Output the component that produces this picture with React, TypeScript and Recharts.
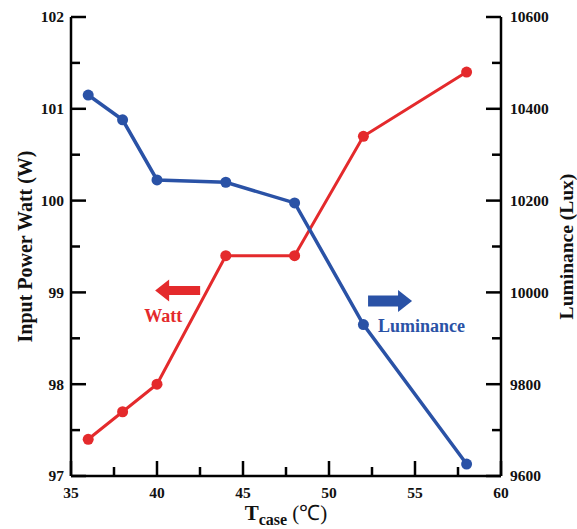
import React from 'react';
import { ComposedChart, Line, XAxis, YAxis, ReferenceDot } from 'recharts';

const temps = [36, 38, 40, 44, 48, 52, 58];
const wattValues = [97.4, 97.7, 98.0, 99.4, 99.4, 100.7, 101.4];
const luxValues = [10430, 10376, 10245, 10240, 10195, 9930, 9626];
const xTicks = [35, 37.5, 40, 42.5, 45, 47.5, 50, 52.5, 55, 57.5, 60];
const wattTicks = [97, 97.5, 98, 98.5, 99, 99.5, 100, 100.5, 101, 101.5, 102];
const luxTicks = [9600, 9700, 9800, 9900, 10000, 10100, 10200, 10300, 10400, 10500, 10600];

const data = temps.map((t, i) => ({ t, watt: wattValues[i], lux: luxValues[i] }));

const RED = '#e42a2c';
const BLUE = '#2a52a6';
const FONT = '"Liberation Serif", "Times New Roman", serif';
const MAJOR = 15;
const MINOR = 9;

const XTick = (props: any) => {
  const { x, y, payload } = props;
  const v = payload.value;
  const major = v % 5 === 0;
  return (
    <g>
      <line x1={x} y1={y} x2={x} y2={y - (major ? MAJOR : MINOR)} stroke="#000" strokeWidth={2.5} />
      {major && (
        <text x={x} y={y + 22} textAnchor="middle" fontFamily={FONT} fontWeight="bold" fontSize={15.5} fill="#111">
          {v}
        </text>
      )}
    </g>
  );
};

const LeftTick = (props: any) => {
  const { x, y, payload } = props;
  const v = payload.value;
  const major = Number.isInteger(v);
  return (
    <g>
      <line x1={x} y1={y} x2={x + (major ? MAJOR : MINOR)} y2={y} stroke="#000" strokeWidth={2.5} />
      {major && (
        <text x={x - 7} y={y} dy="0.35em" textAnchor="end" fontFamily={FONT} fontWeight="bold" fontSize={15.5} fill="#111">
          {v}
        </text>
      )}
    </g>
  );
};

const RightTick = (props: any) => {
  const { x, y, payload } = props;
  const v = payload.value;
  const major = v % 200 === 0;
  return (
    <g>
      <line x1={x} y1={y} x2={x - (major ? MAJOR : MINOR)} y2={y} stroke="#000" strokeWidth={2.5} />
      {major && (
        <text x={x + 9} y={y} dy="0.35em" textAnchor="start" fontFamily={FONT} fontWeight="bold" fontSize={15.5} fill="#111">
          {v}
        </text>
      )}
    </g>
  );
};

const LeftLabel = (props: any) => {
  const vb = props.viewBox;
  const cx = vb.x + 24.5;
  const cy = vb.y + vb.height / 2;
  return (
    <text x={cx} y={cy} transform={`rotate(-90 ${cx} ${cy})`} textAnchor="middle" dominantBaseline="central"
      fontFamily={FONT} fontWeight="bold" fontSize={20} fill="#111">
      Input Power Watt (W)
    </text>
  );
};

const RightLabel = (props: any) => {
  const vb = props.viewBox;
  const cx = vb.x + 65;
  const cy = vb.y + vb.height / 2;
  return (
    <text x={cx} y={cy} transform={`rotate(-90 ${cx} ${cy})`} textAnchor="middle" dominantBaseline="central"
      fontFamily={FONT} fontWeight="bold" fontSize={19.5} fill="#111">
      Luminance (Lux)
    </text>
  );
};

const BottomLabel = (props: any) => {
  const vb = props.viewBox;
  const cx = vb.x + vb.width / 2;
  const y = vb.y + 44;
  return (
    <text x={cx} y={y} textAnchor="middle" fontFamily={FONT} fontWeight="bold" fontSize={21} fill="#111">
      <tspan>T</tspan>
      <tspan fontSize={16} dy={5}>case</tspan>
      <tspan fontWeight="normal" dy={-5}> (℃)</tspan>
    </text>
  );
};

const RedArrow = (props: any) => {
  const { cx, cy } = props;
  const l = cx - 22.5;
  const r = cx + 22.5;
  const pts = [
    [l, cy], [l + 14, cy - 11], [l + 14, cy - 4.5], [r, cy - 4.5], [r, cy + 4.5], [l + 14, cy + 4.5], [l + 14, cy + 11],
  ].map((p) => p.join(',')).join(' ');
  return (
    <g>
      <polygon points={pts} fill={RED} />
      <text x={cx - 14.5} y={cy + 31} textAnchor="middle" fontFamily={FONT} fontWeight="bold" fontSize={18} fill={RED}>
        Watt
      </text>
    </g>
  );
};

const BlueArrow = (props: any) => {
  const { cx, cy } = props;
  const l = cx - 22;
  const r = cx + 22;
  const pts = [
    [r, cy], [r - 14, cy - 11], [r - 14, cy - 5.5], [l, cy - 5.5], [l, cy + 5.5], [r - 14, cy + 5.5], [r - 14, cy + 11],
  ].map((p) => p.join(',')).join(' ');
  return (
    <g>
      <polygon points={pts} fill={BLUE} />
      <text x={cx - 12} y={cy + 31} textAnchor="start" fontFamily={FONT} fontWeight="bold" fontSize={18} fill={BLUE}>
        Luminance
      </text>
    </g>
  );
};

export default function App() {
  return (
    <div style={{ position: 'absolute', left: 0, top: 0, width: 577, height: 529, overflow: 'hidden', background: '#fff' }}>
      <ComposedChart width={577} height={529} data={data} margin={{ top: 17, right: 0, bottom: 0, left: 0 }}>
        <XAxis
          dataKey="t"
          type="number"
          domain={[35, 60]}
          ticks={xTicks}
          interval={0}
          height={53}
          tickSize={0}
          tickMargin={0}
          tickLine={false}
          tick={<XTick />}
          axisLine={{ stroke: '#000', strokeWidth: 2.5 }}
          label={<BottomLabel />}
        />
        <XAxis
          xAxisId="top"
          orientation="top"
          type="number"
          domain={[35, 60]}
          height={0}
          tick={false}
          tickLine={false}
          axisLine={{ stroke: '#000', strokeWidth: 2.5 }}
        />
        <YAxis
          yAxisId="w"
          orientation="left"
          width={71}
          domain={[97, 102]}
          ticks={wattTicks}
          interval={0}
          tickSize={0}
          tickMargin={0}
          tickLine={false}
          tick={<LeftTick />}
          axisLine={{ stroke: '#000', strokeWidth: 2.5 }}
          label={<LeftLabel />}
        />
        <YAxis
          yAxisId="l"
          orientation="right"
          width={76}
          domain={[9600, 10600]}
          ticks={luxTicks}
          interval={0}
          tickSize={0}
          tickMargin={0}
          tickLine={false}
          tick={<RightTick />}
          axisLine={{ stroke: '#000', strokeWidth: 2.5 }}
          label={<RightLabel />}
        />
        <Line
          yAxisId="w"
          dataKey="watt"
          stroke={RED}
          strokeWidth={3}
          dot={{ r: 5.5, fill: RED, stroke: RED, strokeWidth: 0 }}
          isAnimationActive={false}
        />
        <Line
          yAxisId="l"
          dataKey="lux"
          stroke={BLUE}
          strokeWidth={3.5}
          dot={{ r: 5.5, fill: BLUE, stroke: BLUE, strokeWidth: 0 }}
          isAnimationActive={false}
        />
        <ReferenceDot yAxisId="w" x={41.2} y={99.02} shape={<RedArrow />} />
        <ReferenceDot yAxisId="l" x={53.55} y={9981} shape={<BlueArrow />} />
      </ComposedChart>
    </div>
  );
}
